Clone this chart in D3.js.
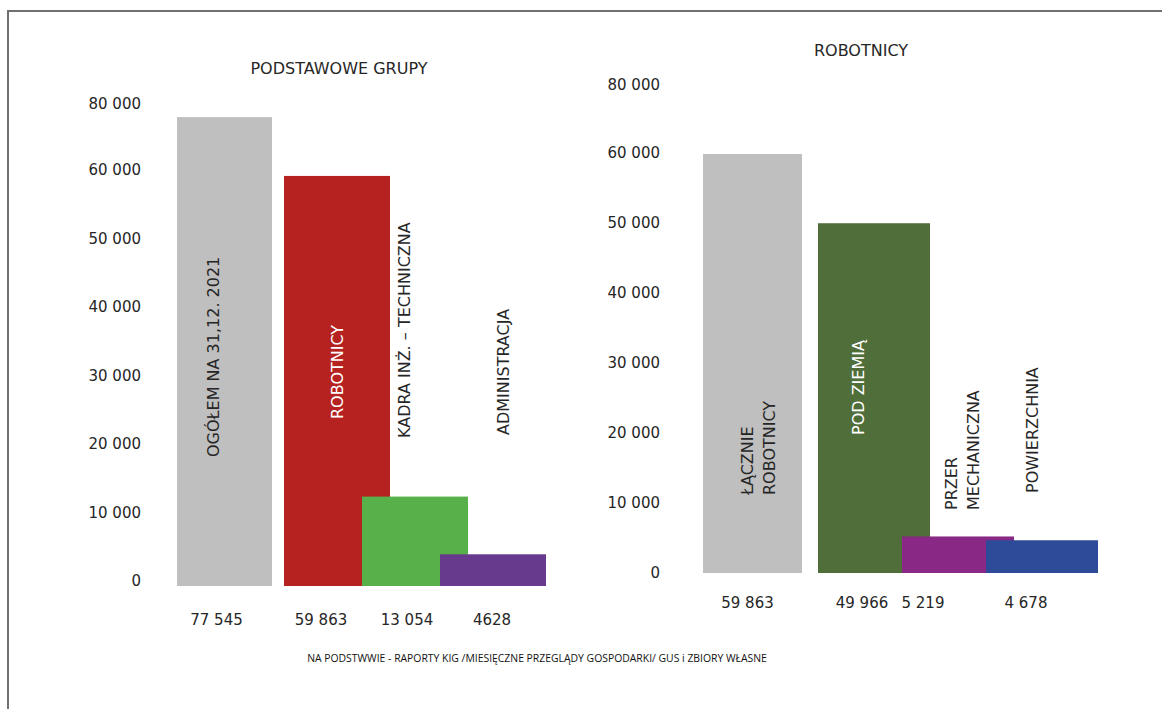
<!DOCTYPE html>
<html>
<head>
<meta charset="utf-8">
<script src="https://cdn.jsdelivr.net/npm/d3@7"></script>
<style>
  html, body { margin: 0; padding: 0; background: #fff; }
  svg { display: block; }
  text { font-family: "DejaVu Sans", sans-serif; fill: #262626; }
</style>
</head>
<body>
<svg id="chart" width="1162" height="709"></svg>
<script>
// ---- data -------------------------------------------------------------
const groupCategories = [["OGÓŁEM NA 31,12. 2021"], ["ROBOTNICY"], ["KADRA INŻ. – TECHNICZNA"], ["ADMINISTRACJA"]];
const groupValues = [77545, 59863, 13054, 4628];
const groupValueLabels = ["77 545", "59 863", "13 054", "4628"];

const workerCategories = [["ŁĄCZNIE", "ROBOTNICY"], ["POD ZIEMIĄ"], ["PRZER", "MECHANICZNA"], ["POWIERZCHNIA"]];
const workerValues = [59863, 49966, 5219, 4678];
const workerValueLabels = ["59 863", "49 966", "5 219", "4 678"];

const tickValues = [0, 10000, 20000, 30000, 40000, 50000, 60000, 80000];
const tickLabels = ["0", "10 000", "20 000", "30 000", "40 000", "50 000", "60 000", "80 000"];

const groupTitle = "PODSTAWOWE GRUPY";
const workerTitle = "ROBOTNICY";
const sourceNote = "NA PODSTWWIE - RAPORTY KIG /MIESIĘCZNE PRZEGLĄDY GOSPODARKI/ GUS i ZBIORY WŁASNE";

// ---- styling / layout -------------------------------------------------
const groupColors = ["#bfbfbf", "#b5221f", "#57b04a", "#673a8e"];
const workerColors = ["#bfbfbf", "#4f6e3a", "#8a2886", "#2d4b99"];
const groupLabelColors = ["#262626", "#ffffff", "#262626", "#262626"];
const workerLabelColors = ["#262626", "#ffffff", "#262626", "#262626"];

const svg = d3.select("#chart");

// frame lines (top and left)
svg.append("path")
  .attr("d", "M8,709 L8,11 L1162,11")
  .attr("fill", "none")
  .attr("stroke", "#707070")
  .attr("stroke-width", 2);

function drawPanel(cfg) {
  const g = svg.append("g");

  // polylinear value scale: the axis jumps from 60 000 to 80 000
  const y = d3.scaleLinear()
    .domain([0, 60000, 80000])
    .range(cfg.yRange);

  // bars overlap one another; left edges come from an index scale
  const x = d3.scaleLinear()
    .domain([0, 1, cfg.values.length - 1])
    .range(cfg.xRange);
  const width = i => i === 0 ? cfg.firstWidth : cfg.barWidth;
  const cx = i => x(i) + width(i) / 2;

  // axis labels only
  const axis = d3.axisLeft(y)
    .tickValues(tickValues)
    .tickFormat((d, i) => tickLabels[i])
    .tickSize(0)
    .tickPadding(0);
  const ax = g.append("g")
    .attr("transform", `translate(${cfg.axisX},${cfg.axisDy})`)
    .call(axis);
  ax.select(".domain").remove();
  ax.selectAll("text")
    .attr("font-family", "DejaVu Sans, sans-serif")
    .attr("font-size", 15)
    .attr("fill", "#262626");

  // title
  g.append("text")
    .attr("x", cfg.titleX)
    .attr("y", cfg.titleY)
    .attr("text-anchor", "middle")
    .attr("dy", "0.35em")
    .attr("font-size", 16)
    .text(cfg.title);

  // bars
  g.selectAll("rect.bar")
    .data(cfg.values)
    .join("rect")
    .attr("class", "bar")
    .attr("x", (d, i) => x(i))
    .attr("width", (d, i) => width(i))
    .attr("y", d => y(d))
    .attr("height", d => y(0) - y(d))
    .attr("fill", (d, i) => cfg.colors[i]);

  // value labels under the bars
  g.selectAll("text.val")
    .data(cfg.valueLabels)
    .join("text")
    .attr("class", "val")
    .attr("x", (d, i) => cx(i) + cfg.valueDx[i])
    .attr("y", cfg.valueY)
    .attr("text-anchor", "middle")
    .attr("dy", "0.35em")
    .attr("font-size", 15)
    .text(d => d);

  // vertical category labels
  const lineH = 22;
  cfg.categories.forEach((lines, i) => {
    const t = g.append("text")
      .attr("transform", `translate(${cx(i) + cfg.labelDx[i]},${cfg.labelBottom[i]}) rotate(-90)`)
      .attr("font-size", 16)
      .attr("fill", cfg.labelColors[i])
      .style("fill", cfg.labelColors[i]);
    lines.forEach((line, k) => {
      t.append("tspan")
        .attr("x", 0)
        .attr("y", (k - (lines.length - 1) / 2) * lineH)
        .attr("dy", "0.36em")
        .text(line);
    });
  });
}

drawPanel({
  title: groupTitle, titleX: 339, titleY: 68,
  values: groupValues, valueLabels: groupValueLabels,
  categories: groupCategories, colors: groupColors, labelColors: groupLabelColors,
  yRange: [586, 175, 109], axisX: 141, axisDy: -5,
  xRange: [177, 284, 440], firstWidth: 95, barWidth: 106,
  valueY: 620, valueDx: [-8, -16, -8, -1],
  labelDx: [-11, 0, -11, 10], labelBottom: [457, 419, 438, 435]
});

drawPanel({
  title: workerTitle, titleX: 861, titleY: 50,
  values: workerValues, valueLabels: workerValueLabels,
  categories: workerCategories, colors: workerColors, labelColors: workerLabelColors,
  yRange: [573, 153, 85], axisX: 660, axisDy: 0,
  xRange: [703, 818, 986], firstWidth: 99, barWidth: 112,
  valueY: 603, valueDx: [-5, -12, -35, -16],
  labelDx: [6, -16, 4, -10], labelBottom: [495, 435, 510, 493]
});

// source note
svg.append("text")
  .attr("x", 537)
  .attr("y", 658)
  .attr("text-anchor", "middle")
  .attr("dy", "0.35em")
  .style("font-family", "'Open Sans', sans-serif")
  .attr("font-size", 10.4)
  .style("fill", "#111")
  .text(sourceNote);
</script>
</body>
</html>
